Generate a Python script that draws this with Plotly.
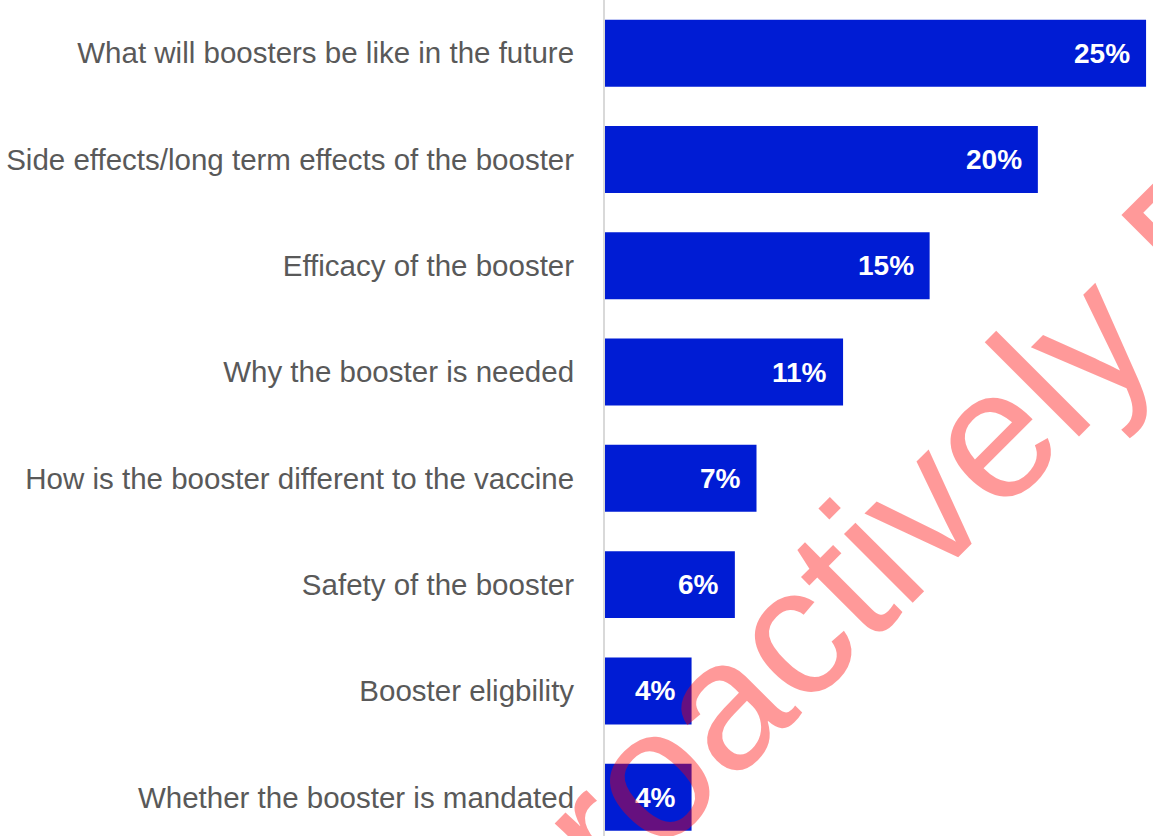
import plotly.graph_objects as go

# Topics people want to know about boosters (% of respondents)
topics = [
    "What will boosters be like in the future",
    "Side effects/long term effects of the booster",
    "Efficacy of the booster",
    "Why the booster is needed",
    "How is the booster different to the vaccine",
    "Safety of the booster",
    "Booster eligbility",
    "Whether the booster is mandated",
]
shares = [25, 20, 15, 11, 7, 6, 4, 4]

BAR_COLOR = "#001CD4"
LABEL_COLOR = "#595959"
FONT = "Liberation Sans, Arial, sans-serif"

fig = go.Figure(
    go.Bar(
        x=shares,
        y=topics,
        orientation="h",
        width=0.63,
        marker=dict(color=BAR_COLOR, line=dict(width=0)),
        hoverinfo="skip",
    )
)

# value labels inside the bar ends
for topic, v in zip(topics, shares):
    fig.add_annotation(
        x=v, y=topic, xref="x", yref="y",
        text=f"<b>{v}%</b>",
        xanchor="right", yanchor="middle", xshift=-14,
        showarrow=False,
        font=dict(family=FONT, size=28, color="white"),
    )

# diagonal watermark
fig.add_annotation(
    x=(869 - 605) / 548, y=1 - 556 / 836, xref="paper", yref="paper",
    text="proactively P",
    textangle=-45,
    xanchor="center", yanchor="middle",
    showarrow=False,
    font=dict(family=FONT, size=184, color="rgba(255,0,0,0.4)"),
)

fig.update_layout(
    width=1153,
    height=836,
    autosize=False,
    margin=dict(l=605, r=0, t=0, b=0),
    paper_bgcolor="white",
    plot_bgcolor="white",
    showlegend=False,
    bargap=0.37,
)

fig.update_xaxes(range=[0, 25.32], visible=False, fixedrange=True)
fig.update_yaxes(
    type="category",
    categoryorder="array",
    categoryarray=topics,
    range=[7.365, -0.5],
    showgrid=False,
    zeroline=False,
    showline=True,
    linecolor="#D9D9D9",
    linewidth=2,
    ticks="",
    ticklabelstandoff=23,
    tickfont=dict(family=FONT, size=29.5, color=LABEL_COLOR),
    fixedrange=True,
)

fig.write_html("out.html", config={"displayModeBar": False})
